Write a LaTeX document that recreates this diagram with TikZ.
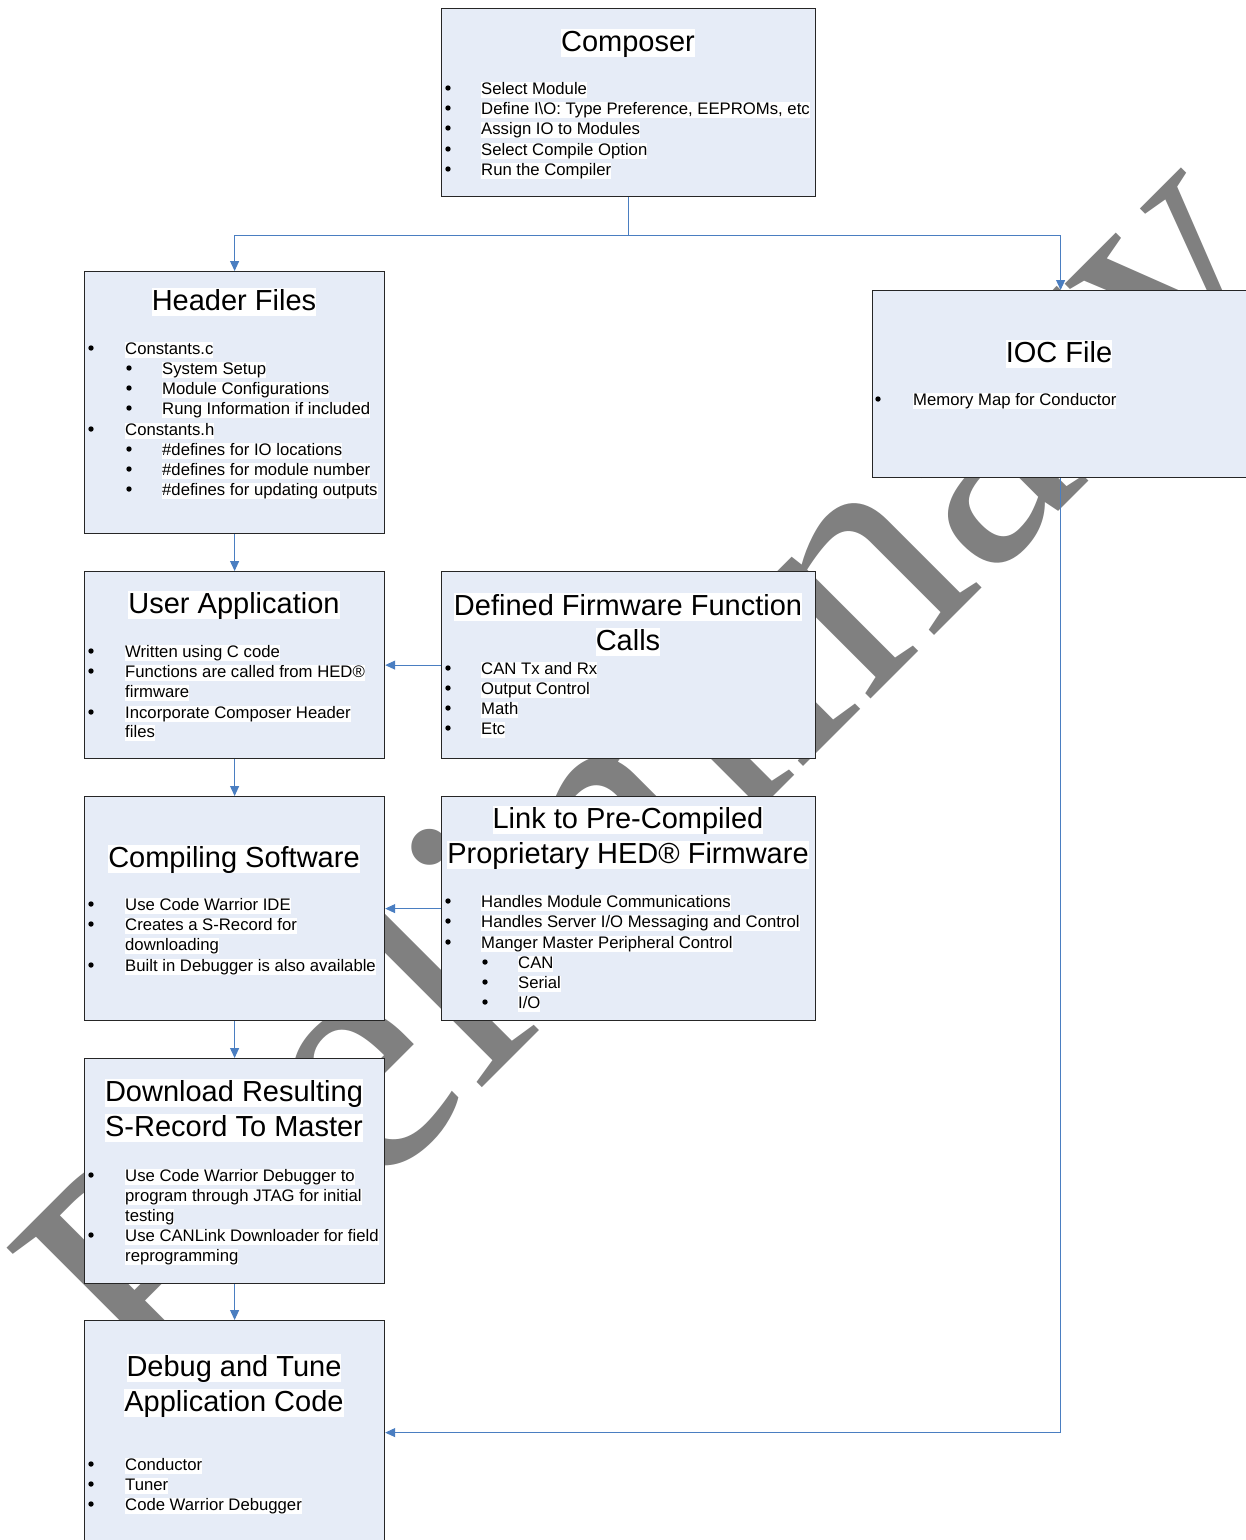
\documentclass[tikz,border=0pt]{standalone}
\usepackage{fontspec}
\setmainfont{Liberation Sans}
\newfontfamily\wmfont{Liberation Serif}
\usetikzlibrary{arrows.meta}
\definecolor{boxfill}{RGB}{230,236,247}
\definecolor{connblue}{RGB}{74,126,193}
\newcount\lncount
\newcommand{\ttlline}[3]{\global\advance\lncount by 1
  \node[ttl] (ln\the\lncount) at (#1,#2+10) {#3};}
\newcommand{\bodline}[3]{\global\advance\lncount by 1
  \node[bod] (ln\the\lncount) at (#1,#2+6) {#3};}
\newcommand{\bitem}[4]{\fill (#1,#3) circle (2.7);
  \bodline{#2}{#3}{#4}}
\begin{document}
\begin{tikzpicture}[x=1pt,y=-1pt,
  box/.style={draw=black!85, line width=1.2pt, fill=boxfill, inner sep=0pt, anchor=north west},
  ttl/.style={font=\fontsize{29}{35}\selectfont, fill=white, inner sep=0pt, text height=22.5pt, text depth=6pt, anchor=base},
  bod/.style={font=\fontsize{16.7}{20}\selectfont, fill=white, inner sep=0pt, text height=12.5pt, text depth=3.8pt, anchor=base west},
  conn/.style={draw=connblue, line width=1pt, -{Triangle[length=10pt,width=9pt]}},
]
\useasboundingbox (0,0) rectangle (1246,1540);
\fill[white] (0,0) rectangle (1246,1540);
% watermark
\node[rotate=45, anchor=base, text=black!50, inner sep=0pt,
  font=\wmfont\fontsize{340}{340}\selectfont] (wm) at (725,845) {Preliminary};
% boxes
\node[box, minimum width=374pt, minimum height=188pt] (composer) at (441,8) {};
\node[box, minimum width=300pt, minimum height=262pt] (header) at (84,271) {};
\node[box, minimum width=376pt, minimum height=187pt] (ioc) at (872,290) {};
\node[box, minimum width=300pt, minimum height=187pt] (userapp) at (84,571) {};
\node[box, minimum width=374pt, minimum height=187pt] (defined) at (441,571) {};
\node[box, minimum width=300pt, minimum height=224pt] (compiling) at (84,796) {};
\node[box, minimum width=374pt, minimum height=224pt] (link) at (441,796) {};
\node[box, minimum width=300pt, minimum height=225pt] (download) at (84,1058) {};
\node[box, minimum width=300pt, minimum height=224pt] (debug) at (84,1320) {};
% connectors
\draw[conn] (composer.south) -- ++(0,38) -| (header.north);
\draw[conn] (composer.south) -- ++(0,38) -| (ioc.north);
\draw[conn] (header.south) -- (userapp.north);
\draw[conn] (defined.west) -- (userapp.east);
\draw[conn] (userapp.south) -- (compiling.north);
\draw[conn] (link.west) -- (compiling.east);
\draw[conn] (compiling.south) -- (download.north);
\draw[conn] (download.south) -- (debug.north);
\draw[conn] (ioc.south) |- (debug.east);
% Composer
\ttlline{628}{41}{Composer}
\bitem{448}{481}{88}{Select Module}
\bitem{448}{481}{108}{Define I\textbackslash O: Type Preference, EEPROMs, etc}
\bitem{448}{481}{128}{Assign IO to Modules}
\bitem{448}{481}{149}{Select Compile Option}
\bitem{448}{481}{169}{Run the Compiler}
% Header Files
\ttlline{234}{300}{Header Files}
\bitem{91}{125}{348}{Constants.c}
\bitem{129}{162}{368}{System Setup}
\bitem{129}{162}{388}{Module Configurations}
\bitem{129}{162}{408}{Rung Information if included}
\bitem{91}{125}{429}{Constants.h}
\bitem{129}{162}{449}{\#defines for IO locations}
\bitem{129}{162}{469}{\#defines for module number}
\bitem{129}{162}{489}{\#defines for updating outputs}
% IOC
\ttlline{1059}{352}{IOC File}
\bitem{878}{913}{399}{Memory Map for Conductor}
% User Application
\ttlline{234}{603}{User Application}
\bitem{91}{125}{651}{Written using C code}
\bitem{91}{125}{671}{Functions are called from HED®}
\bodline{125}{691}{firmware}
\bitem{91}{125}{712}{Incorporate Composer Header}
\bodline{125}{731}{files}
% Defined Firmware
\ttlline{628}{605}{Defined Firmware Function}
\ttlline{628}{640}{Calls}
\bitem{448}{481}{668}{CAN Tx and Rx}
\bitem{448}{481}{688}{Output Control}
\bitem{448}{481}{708}{Math}
\bitem{448}{481}{728}{Etc}
% Compiling
\ttlline{234}{857}{Compiling Software}
\bitem{91}{125}{904}{Use Code Warrior IDE}
\bitem{91}{125}{924}{Creates a S-Record for}
\bodline{125}{944}{downloading}
\bitem{91}{125}{965}{Built in Debugger is also available}
% Link
\ttlline{628}{818}{Link to Pre-Compiled}
\ttlline{628}{853}{Proprietary HED® Firmware}
\bitem{448}{481}{901}{Handles Module Communications}
\bitem{448}{481}{921}{Handles Server I/O Messaging and Control}
\bitem{448}{481}{942}{Manger Master Peripheral Control}
\bitem{485}{518}{962}{CAN}
\bitem{485}{518}{982}{Serial}
\bitem{485}{518}{1002}{I/O}
% Download
\ttlline{234}{1091}{Download Resulting}
\ttlline{234}{1126}{S-Record To Master}
\bitem{91}{125}{1175}{Use Code Warrior Debugger to}
\bodline{125}{1195}{program through JTAG for initial}
\bodline{125}{1215}{testing}
\bitem{91}{125}{1235}{Use CANLink Downloader for field}
\bodline{125}{1255}{reprogramming}
% Debug
\ttlline{234}{1366}{Debug and Tune}
\ttlline{234}{1401}{Application Code}
\bitem{91}{125}{1464}{Conductor}
\bitem{91}{125}{1484}{Tuner}
\bitem{91}{125}{1504}{Code Warrior Debugger}
\end{tikzpicture}
\end{document}
